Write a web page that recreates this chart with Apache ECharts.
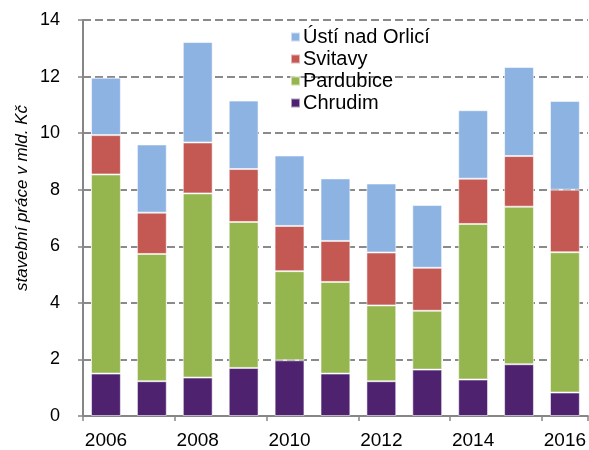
<!DOCTYPE html>
<html>
<head>
<meta charset="utf-8">
<script src="https://cdn.jsdelivr.net/npm/echarts@6/dist/echarts.min.js"></script>
<style>
  html, body { margin: 0; padding: 0; background: #fff; }
  #main { width: 589px; height: 450px; }
</style>
</head>
<body>
<div id="main"></div>
<script>
// data (mld. Kč)
const years = ['2006', '2007', '2008', '2009', '2010', '2011', '2012', '2013', '2014', '2015', '2016'];
const chrudim   = [1.50, 1.23, 1.36, 1.70, 1.97, 1.50, 1.23, 1.64, 1.29, 1.83, 0.83];
const pardubice = [7.04, 4.50, 6.51, 5.16, 3.15, 3.24, 2.68, 2.08, 5.50, 5.57, 4.96];
const svitavy   = [1.39, 1.46, 1.80, 1.87, 1.60, 1.45, 1.87, 1.52, 1.60, 1.79, 2.21];
const usti      = [2.03, 2.41, 3.55, 2.42, 2.49, 2.21, 2.44, 2.22, 2.42, 3.15, 3.14];

const font = 'Liberation Sans, Arial, sans-serif';

function bar(name, data, color) {
  return {
    name: name,
    type: 'bar',
    stack: 'total',
    data: data,
    barWidth: '65%',
    itemStyle: { color: color, borderColor: 'rgba(255,255,255,0.55)', borderWidth: 1 }
  };
}

const chart = echarts.init(document.getElementById('main'));

let option = {
  animation: false,
  textStyle: { fontFamily: font },
  grid: { left: 83, right: 0, top: 20, bottom: 33 },
  legend: {
    orient: 'vertical',
    left: 285,
    top: 22,
    itemWidth: 9,
    itemHeight: 9,
    itemGap: 2,
    icon: 'rect',
    textStyle: { fontFamily: font, fontSize: 20, color: '#000', padding: [0, 0, 0, -2] },
    data: ['Ústí nad Orlicí', 'Svitavy', 'Pardubice', 'Chrudim']
  },
  graphic: [{
    type: 'text',
    x: 22,
    y: 198,
    rotation: Math.PI / 2,
    style: {
      text: 'stavební práce v mld. Kč',
      font: 'italic 17px Liberation Sans, Arial, sans-serif',
      fill: '#000',
      textAlign: 'center',
      textVerticalAlign: 'middle'
    }
  }],
  xAxis: {
    type: 'category',
    data: years,
    axisLine: { lineStyle: { color: '#868686', width: 2 } },
    axisTick: { show: true, length: 5, lineStyle: { color: '#868686', width: 1.5 } },
    axisLabel: { interval: 1, fontSize: 19, color: '#000', margin: 15, fontFamily: font }
  },
  yAxis: {
    type: 'value',
    min: 0,
    max: 14,
    interval: 2,
    axisLine: { show: true, lineStyle: { color: '#868686', width: 2 } },
    axisTick: { show: true, length: 5, lineStyle: { color: '#868686', width: 1.5 } },
    axisLabel: { fontSize: 18, color: '#000', margin: 23, fontFamily: font },
    splitLine: { lineStyle: { color: '#8a8a8a', width: 2, type: [8, 4] } }
  },
  series: [
    bar('Chrudim', chrudim, '#4f2270'),
    bar('Pardubice', pardubice, '#95b54f'),
    bar('Svitavy', svitavy, '#c45852'),
    bar('Ústí nad Orlicí', usti, '#8db3e2')
  ]
};

chart.setOption(option);
</script>
</body>
</html>
